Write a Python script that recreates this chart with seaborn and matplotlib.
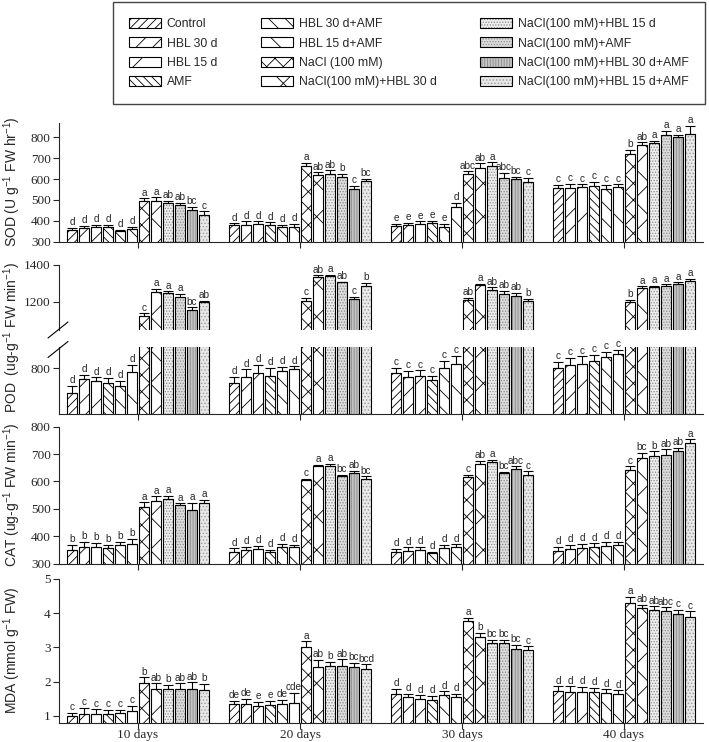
import numpy as np
import pandas as pd
import matplotlib
matplotlib.use("Agg")
import matplotlib.pyplot as plt
import matplotlib.colors as mcolors
import seaborn as sns
from matplotlib.patches import Patch
from matplotlib.lines import Line2D
from matplotlib.container import BarContainer

sns.set_style("ticks")
plt.rcParams["font.family"] = ["Liberation Serif", "DejaVu Serif"]
plt.rcParams["mathtext.fontset"] = "custom"
plt.rcParams["mathtext.rm"] = "Liberation Sans"
plt.rcParams["mathtext.it"] = "Liberation Sans:italic"
plt.rcParams["hatch.linewidth"] = 0.6
SANS = ["Liberation Sans", "DejaVu Sans"]
LETTER_SIZE = 7.2

# ---------------- data ----------------
days = ["10 days", "20 days", "30 days", "40 days"]
treatments = ["Control", "HBL 30 d", "HBL 15 d", "AMF", "HBL 30 d+AMF", "HBL 15 d+AMF",
              "NaCl (100 mM)", "NaCl(100 mM)+HBL 30 d", "NaCl(100 mM)+HBL 15 d",
              "NaCl(100 mM)+AMF", "NaCl(100 mM)+HBL 30 d+AMF", "NaCl(100 mM)+HBL 15 d+AMF"]

sod_mean = [[358, 365, 372, 370, 350, 362, 495, 497, 485, 477, 452, 430],
            [378, 382, 383, 380, 370, 372, 663, 617, 622, 610, 553, 592],
            [375, 378, 385, 388, 372, 465, 622, 655, 660, 605, 598, 588],
            [556, 556, 562, 565, 553, 560, 720, 765, 772, 810, 800, 815]]
sod_err = [[8, 10, 10, 10, 8, 10, 12, 15, 10, 10, 15, 15],
           [10, 15, 15, 12, 12, 12, 15, 15, 20, 15, 15, 10],
           [10, 12, 12, 12, 15, 20, 15, 20, 20, 25, 12, 18],
           [15, 20, 12, 20, 18, 15, 18, 10, 10, 20, 12, 40]]
sod_let = [["d"] * 6 + ["a", "a", "ab", "ab", "bc", "c"],
           ["d"] * 6 + ["a", "ab", "ab", "b", "c", "bc"],
           ["e"] * 5 + ["d", "abc", "ab", "a", "abc", "bc", "c"],
           ["c"] * 6 + ["b", "ab", "a", "a", "a", "a"]]

pod_mean = [[664, 740, 731, 718, 705, 780, 1122, 1255, 1245, 1228, 1157, 1196],
            [722, 755, 775, 758, 786, 795, 1205, 1335, 1340, 1306, 1215, 1287],
            [773, 750, 759, 735, 800, 822, 1210, 1290, 1266, 1242, 1233, 1205],
            [800, 818, 825, 840, 861, 876, 1196, 1273, 1279, 1284, 1294, 1315]]
pod_err = [[40, 25, 20, 30, 25, 40, 15, 15, 12, 15, 12, 8],
           [30, 40, 45, 45, 20, 15, 15, 8, 8, 3, 12, 15],
           [30, 35, 30, 25, 40, 45, 12, 8, 12, 18, 15, 12],
           [35, 40, 40, 35, 30, 25, 15, 10, 8, 10, 12, 8]]
pod_let = [["d"] * 6 + ["c", "a", "a", "a", "bc", "ab"],
           ["d"] * 6 + ["c", "ab", "a", "ab", "c", "b"],
           ["c"] * 6 + ["ab", "a", "ab", "ab", "ab", "b"],
           ["c"] * 6 + ["b", "a", "a", "a", "a", "a"]]

cat_mean = [[348, 360, 360, 355, 368, 370, 508, 530, 535, 512, 497, 520],
            [343, 349, 353, 341, 361, 359, 604, 655, 658, 620, 632, 610],
            [342, 347, 350, 337, 357, 360, 615, 665, 670, 630, 647, 622],
            [346, 352, 357, 362, 363, 368, 643, 686, 692, 697, 712, 742]]
cat_err = [[20, 18, 15, 12, 12, 20, 15, 15, 12, 8, 25, 12],
           [12, 12, 12, 8, 12, 10, 5, 5, 6, 5, 6, 8],
           [12, 12, 12, 6, 12, 10, 8, 10, 10, 6, 8, 15],
           [15, 15, 15, 12, 15, 10, 12, 18, 18, 20, 10, 12]]
cat_let = [["b"] * 6 + ["a"] * 6,
           ["d"] * 6 + ["c", "a", "a", "bc", "ab", "bc"],
           ["d"] * 6 + ["c", "ab", "a", "bc", "abc", "c"],
           ["d"] * 6 + ["c", "bc", "b", "ab", "ab", "a"]]

mda_mean = [[1.0, 1.05, 1.05, 1.05, 1.08, 1.15, 1.95, 1.8, 1.78, 1.8, 1.8, 1.75],
            [1.35, 1.35, 1.3, 1.32, 1.35, 1.37, 3.0, 2.44, 2.46, 2.47, 2.43, 2.37],
            [1.65, 1.55, 1.5, 1.48, 1.6, 1.55, 3.76, 3.3, 3.12, 3.13, 2.96, 2.93],
            [1.74, 1.71, 1.69, 1.71, 1.66, 1.63, 4.3, 4.15, 4.1, 4.07, 3.97, 3.9]]
mda_err = [[0.1, 0.18, 0.14, 0.12, 0.1, 0.15, 0.18, 0.15, 0.12, 0.15, 0.18, 0.18],
           [0.1, 0.15, 0.12, 0.12, 0.12, 0.3, 0.18, 0.2, 0.12, 0.18, 0.12, 0.14],
           [0.15, 0.1, 0.1, 0.1, 0.12, 0.1, 0.1, 0.12, 0.1, 0.1, 0.12, 0.1],
           [0.12, 0.15, 0.15, 0.12, 0.12, 0.12, 0.18, 0.1, 0.1, 0.1, 0.12, 0.15]]
mda_let = [["c"] * 6 + ["b", "ab", "b", "ab", "ab", "b"],
           ["de", "de", "e", "e", "de", "cde", "a", "ab", "b", "ab", "bc", "bcd"],
           ["d"] * 6 + ["a", "b", "bc", "bc", "bc", "c"],
           ["d"] * 6 + ["a", "ab", "ab", "abc", "c", "c"]]

# ---------------- styles ----------------
faces = ["white"] * 8 + ["#eeeeee", "#dcdcdc", "#c4c4c4", "#e8e8e8"]
hatches = ["////", "//", "/", "\\\\\\\\", "\\\\", "\\", "xx", "x",
           "......", "......", "||||||", "....."]
hatch_cols = ["black"] * 8 + ["#8a8a8a", "#8a8a8a", "#8a8a8a", "#9a9a9a"]

W, H = 709, 742
fig = plt.figure(figsize=(W / 100, H / 100), dpi=100)


def style_patch(p, k):
    p.set_facecolor(faces[k])
    p.set_hatch(hatches[k])
    p.set_edgecolor("black")
    p._hatch_color = mcolors.to_rgba(hatch_cols[k])


def add_ax(top, bottom, left=59, right=703):
    return fig.add_axes([left / W, 1 - bottom / H, (right - left) / W, (bottom - top) / H])


def draw(ax, mean, err, letters, ylim, yticks, show_x=False, spines=("left", "bottom")):
    df = pd.DataFrame({"day": np.repeat(days, 12),
                       "treatment": treatments * 4,
                       "value": np.ravel(mean)})
    sns.barplot(data=df, x="day", y="value", hue="treatment", order=days,
                hue_order=treatments, errorbar=None, width=0.89, gap=0.12,
                legend=False, ax=ax, edgecolor="black", linewidth=0.8)
    ax.set_ylim(*ylim)
    ax.set_xlim(-0.488, 3.488)
    pitch = 0.89 / 12
    bars = [b for c in ax.containers if isinstance(c, BarContainer) for b in c]
    for bar in bars:
        xc = bar.get_x() + bar.get_width() / 2
        d = int(round(xc))
        k = int(round((xc - d + 0.445 - pitch / 2) / pitch))
        style_patch(bar, k)
        v = mean[d][k]
        e = err[d][k]
        if ylim[0] < v < ylim[1]:
            ax.errorbar([xc], [v], yerr=[[0], [e]], fmt="none", ecolor="black",
                        elinewidth=0.8, capsize=3.6, capthick=0.8)
            if v + e < ylim[1]:
                ax.annotate(letters[d][k], (xc, v + e), xytext=(0, 0.5),
                            textcoords="offset points", ha="center", va="bottom",
                            fontsize=LETTER_SIZE, family=SANS)
    ax.set_yticks(yticks)
    ax.set_xlabel("")
    ax.set_ylabel("")
    for s in ["top", "right", "left", "bottom"]:
        ax.spines[s].set_visible(s in spines)
        ax.spines[s].set_linewidth(0.8)
    ax.tick_params(axis="both", direction="out", length=4, width=0.8, labelsize=9.5, pad=2)
    ax.tick_params(axis="x", pad=1)
    ax.set_xticks(range(4))
    if show_x:
        ax.set_xticklabels(days, fontsize=9.5)
    else:
        ax.set_xticklabels([])
    if "bottom" not in spines:
        ax.tick_params(axis="x", length=0)


ax_sod = add_ax(123, 241.7)
draw(ax_sod, sod_mean, sod_err, sod_let, (300, 868), [300, 400, 500, 600, 700, 800])

ax_pu = add_ax(265, 330)
draw(ax_pu, pod_mean, pod_err, pod_let, (1046, 1400), [1200, 1400], spines=("left",))
ax_pl = add_ax(347, 414)
draw(ax_pl, pod_mean, pod_err, pod_let, (551, 916), [800])

ax_cat = add_ax(426.7, 563.5)
draw(ax_cat, cat_mean, cat_err, cat_let, (300, 800), [300, 400, 500, 600, 700, 800])

ax_mda = add_ax(578.8, 722.5)
draw(ax_mda, mda_mean, mda_err, mda_let, (0.81, 5), [1, 2, 3, 4, 5], show_x=True)

# axis break marks on the POD left axis
for cy in (330, 349.5):
    fig.add_artist(Line2D([(58 - 10) / W, (58 + 10) / W], [1 - (cy + 8) / H, 1 - (cy - 8) / H],
                          color="black", lw=0.8, transform=fig.transFigure))

# y labels
ylab = [("SOD (U g$^{-1}$ FW hr$^{-1}$)", 182),
        ("POD  (ug-g$^{-1}$ FW min$^{-1}$)", 338),
        ("CAT (ug-g$^{-1}$ FW min$^{-1}$)", 495),
        ("MDA (mmol g$^{-1}$ FW)", 650)]
for txt, yc in ylab:
    fig.text(12 / W, 1 - yc / H, txt, rotation=90, ha="center", va="center",
             fontsize=10, family=SANS)

# legend
handles = []
for k in range(12):
    hp = Patch(facecolor=faces[k], edgecolor="black", hatch=hatches[k], linewidth=0.8)
    handles.append(hp)
leg = fig.legend(handles, treatments, ncol=3, loc="upper left",
                 bbox_to_anchor=(113 / W, 1 - 2 / H, 592 / W, 0.0), mode="expand",
                 frameon=True, fancybox=False, edgecolor="#444444", framealpha=1,
                 prop={"family": SANS, "size": 8.8}, handlelength=2.6, handleheight=0.9,
                 labelspacing=0.58, borderpad=1.3, handletextpad=0.5, borderaxespad=0)
leg.get_frame().set_linewidth(1.0)
for lh, k in zip(leg.legend_handles, range(12)):
    lh._hatch_color = mcolors.to_rgba(hatch_cols[k])

fig.savefig("out.png", dpi=100)
